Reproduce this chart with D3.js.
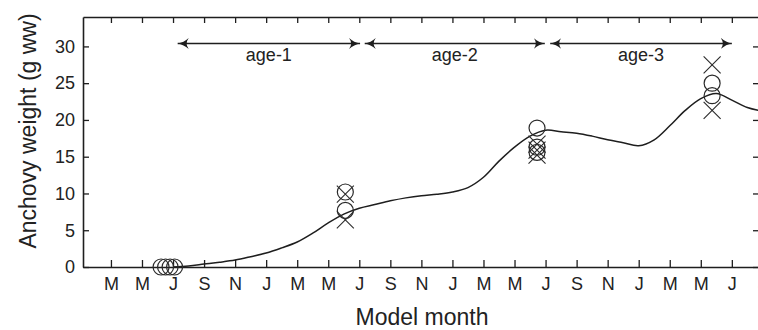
<!DOCTYPE html>
<html>
<head>
<meta charset="utf-8">
<script src="https://cdn.jsdelivr.net/npm/d3@7"></script>
<style>
  html, body { margin: 0; padding: 0; background: #ffffff; }
  svg { display: block; font-family: "Liberation Sans", Arial, Helvetica, sans-serif; }
</style>
</head>
<body>
<svg id="chart" width="758" height="330"></svg>
<script>
// Model month index: 1 = January of the first year
const curveMonths = [7,8,9,10,11,12,13,14,15,16,17,18,19,20,21,22,23,24,25,26,
                     27,28,29,30,31,32,33,34,35,36,37,38,39,40,41,42,43,44,45];
// Simulated anchovy weight (g wet weight)
const curveWeights = [0.0,0.15,0.4,0.65,0.95,1.4,1.9,2.6,3.4,4.6,6.0,7.2,8.0,8.5,9.0,9.4,9.7,9.9,10.2,10.8,
                      12.2,14.4,16.3,17.8,18.6,18.4,18.2,17.8,17.3,16.9,16.5,17.3,19.2,21.3,22.9,23.6,22.7,21.7,21.2];

// Observed mean weights (circles)
const circleMonths  = [6.23, 6.52, 6.81, 7.1, 18.1, 18.1, 30.45, 30.45, 30.45, 41.73, 41.73];
const circleWeights = [0, 0, 0, 0, 10.2, 7.7, 18.9, 16.3, 15.6, 25.0, 23.3];

// Observed weights, second data source (crosses)
const crossMonths  = [18.1, 18.1, 30.45, 30.45, 30.45, 41.73, 41.73];
const crossWeights = [9.9, 6.4, 16.7, 15.9, 15.2, 27.5, 21.3];

// Age classes
const ageLabels = ["age-1", "age-2", "age-3"];
const ageStart  = [7.3, 19.35, 31.3];
const ageEnd    = [19.05, 30.95, 43.0];
const ageLevel  = 30.4;

// Axis ticks
const xTickMonths = d3.range(3, 46, 2);
const xTickLabels = ["M","M","J","S","N","J","M","M","J","S","N","J","M","M","J","S","N","J","M","M","J","S"];
const yTicks = [0, 5, 10, 15, 20, 25, 30];

const ink = "#1e1e1e";
const svg = d3.select("#chart");

const x = d3.scaleLinear().domain([1.2, 44.75]).range([83, 759]);
const y = d3.scaleLinear().domain([0, 34]).range([267, 17]);

// axes (inward ticks on all four sides)
const axisB = svg.append("g").attr("transform", `translate(0,${y(0)})`)
  .call(d3.axisBottom(x).tickValues(xTickMonths)
        .tickFormat((d, i) => xTickLabels[i]).tickSize(-7).tickSizeOuter(0).tickPadding(10));
const axisT = svg.append("g").attr("transform", `translate(0,${y(34)})`)
  .call(d3.axisTop(x).tickValues(xTickMonths).tickFormat("").tickSize(-6).tickSizeOuter(0));
const axisL = svg.append("g").attr("transform", `translate(${x(1.2)},0)`)
  .call(d3.axisLeft(y).tickValues(yTicks).tickSize(-6).tickSizeOuter(0).tickPadding(8));
const axisR = svg.append("g").attr("transform", `translate(${x(44.75)},0)`)
  .call(d3.axisRight(y).tickValues(yTicks).tickFormat("").tickSize(-6).tickSizeOuter(0));

[axisB, axisT, axisL, axisR].forEach(g => {
  g.selectAll(".domain").attr("stroke", ink).attr("stroke-width", 1.6);
  g.selectAll(".tick line").attr("stroke", ink).attr("stroke-width", 1.3);
  g.selectAll(".tick text").attr("fill", "#222").attr("font-size", 18)
    .attr("font-family", "Liberation Sans, Arial, sans-serif");
});
axisB.selectAll(".tick text").attr("dy", "0.72em");

// axis titles
svg.append("text")
  .attr("x", 422).attr("y", 325)
  .attr("text-anchor", "middle")
  .attr("font-size", 23).attr("fill", "#222")
  .text("Model month");
svg.append("text")
  .attr("transform", "translate(36,131) rotate(-90)")
  .attr("text-anchor", "middle")
  .attr("font-size", 23).attr("fill", "#222")
  .text("Anchovy weight (g ww)");

// age-class arrows
const defs = svg.append("defs");
defs.append("marker")
  .attr("id", "head").attr("viewBox", "0 -6 12 12")
  .attr("refX", 11).attr("refY", 0)
  .attr("markerWidth", 12).attr("markerHeight", 12)
  .attr("markerUnits", "userSpaceOnUse")
  .attr("orient", "auto-start-reverse")
  .append("path")
  .attr("d", "M0,-5.5 Q5,-1 11,0 Q5,1 0,5.5 Q4,0 0,-5.5Z")
  .attr("fill", ink);

const ages = svg.append("g");
ageLabels.forEach((lab, i) => {
  ages.append("line")
    .attr("x1", x(ageStart[i])).attr("x2", x(ageEnd[i]))
    .attr("y1", y(ageLevel)).attr("y2", y(ageLevel))
    .attr("stroke", ink).attr("stroke-width", 1.5)
    .attr("marker-start", "url(#head)").attr("marker-end", "url(#head)");
  ages.append("text")
    .attr("x", x((ageStart[i] + ageEnd[i]) / 2)).attr("y", 61)
    .attr("text-anchor", "middle").attr("font-size", 18).attr("fill", "#222")
    .text(lab);
});

// model curve
const line = d3.line()
  .x((d, i) => x(curveMonths[i]))
  .y(d => y(d))
  .curve(d3.curveCatmullRom.alpha(0.5));
svg.append("path")
  .datum(curveWeights)
  .attr("d", line)
  .attr("fill", "none").attr("stroke", ink).attr("stroke-width", 1.5);

// observations
svg.append("g").selectAll("circle")
  .data(circleWeights)
  .join("circle")
  .attr("cx", (d, i) => x(circleMonths[i]))
  .attr("cy", d => y(d))
  .attr("r", 8)
  .attr("fill", "none").attr("stroke", "#2a2a2a").attr("stroke-width", 1.2);

const cs = 8.5;
svg.append("g").selectAll("path")
  .data(crossWeights)
  .join("path")
  .attr("d", (d, i) => {
    const cx = x(crossMonths[i]), cy = y(d);
    return `M${cx - cs},${cy - cs}L${cx + cs},${cy + cs}M${cx - cs},${cy + cs}L${cx + cs},${cy - cs}`;
  })
  .attr("fill", "none").attr("stroke", "#2a2a2a").attr("stroke-width", 1.1);
</script>
</body>
</html>
